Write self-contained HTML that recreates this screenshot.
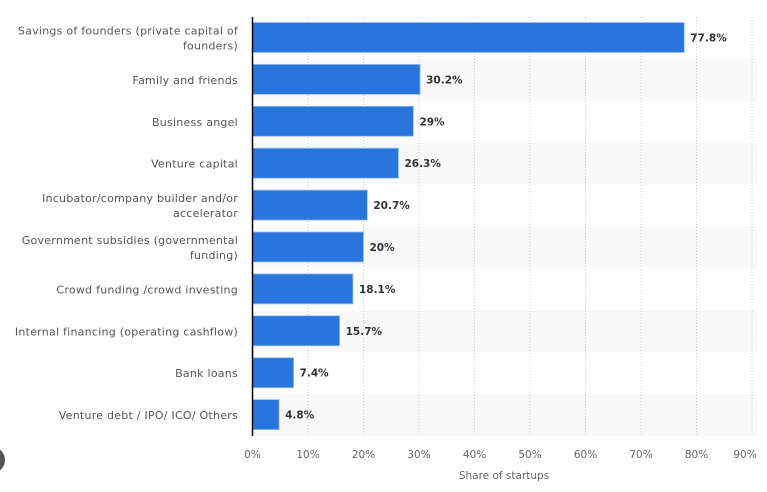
<!DOCTYPE html>
<html><head><meta charset="utf-8"><style>
body{margin:0;background:#fff;width:767px;height:488px;overflow:hidden;font-family:"DejaVu Sans","Liberation Sans",sans-serif}
svg text{font-family:"DejaVu Sans","Liberation Sans",sans-serif}
</style></head><body>
<svg id="chart" width="767" height="488" xmlns="http://www.w3.org/2000/svg">
<circle cx="-8" cy="460" r="13" fill="#555"/>
<g id="bands"></g><g id="grid"></g><g id="bars"></g><g id="labels"></g><g id="ticks"></g>
<line x1="252.5" y1="17" x2="252.5" y2="436" stroke="#000" stroke-width="1.5"/>
<text x="504" y="479" text-anchor="middle" font-size="10.5" fill="#666">Share of startups</text>
</svg>
<script>
const categories=[["Savings of founders (private capital of","founders)"],["Family and friends"],["Business angel"],["Venture capital"],["Incubator/company builder and/or","accelerator"],["Government subsidies (governmental","funding)"],["Crowd funding /crowd investing"],["Internal financing (operating cashflow)"],["Bank loans"],["Venture debt / IPO/ ICO/ Others"]];
const values=[77.8,30.2,29,26.3,20.7,20,18.1,15.7,7.4,4.8];
const valueLabels=["77.8%","30.2%","29%","26.3%","20.7%","20%","18.1%","15.7%","7.4%","4.8%"];
const ticks=[0,10,20,30,40,50,60,70,80,90];
const tickLabels=["0%","10%","20%","30%","40%","50%","60%","70%","80%","90%"];
const NS="http://www.w3.org/2000/svg";
const plotTop=17, rowH=41.9;
const xs=v=>252.5+v*5.55;
const ys=i=>plotTop+i*rowH;
function mk(t,a,p){const e=document.createElementNS(NS,t);for(const k in a)e.setAttribute(k,a[k]);document.getElementById(p).appendChild(e);return e;}
categories.forEach((c,i)=>{
 if(i%2==1){const b=mk('rect',{x:253,y:ys(i),width:504,height:rowH,fill:'#f9f9f9'},'bands');
 
 }
 const r=mk('rect',{x:xs(0),y:ys(i)+5.5,width:xs(values[i])-xs(0),height:30,fill:'#2876dd',stroke:'#9cc1f0','stroke-width':0.8},'bars');
 
 
 const v=mk('text',{x:xs(values[i])+6,y:ys(i)+24.5,'font-size':10.5,'font-weight':'bold',fill:'#333'},'labels');v.textContent=valueLabels[i];
 
 
 const cy=ys(i)+rowH/2;
 c.forEach((line,j)=>{const t=mk('text',{x:238,y:cy+4+(j-(c.length-1)/2)*15,'text-anchor':'end','font-size':11,'letter-spacing':0.25,fill:'#555'},'labels');t.textContent=line;
 
 });
});
ticks.forEach((t,i)=>{
 if(t>0){const g=mk('line',{x1:xs(t),y1:plotTop,x2:xs(t),y2:436,stroke:'#ccc','stroke-dasharray':'1,2'},'grid');
 
 }
 const l=mk('text',{x:Math.min(xs(t),745),y:458,'text-anchor':'middle','font-size':10.5,fill:'#666'},'ticks');l.textContent=tickLabels[i];
 
 
});
</script>
</body></html>
